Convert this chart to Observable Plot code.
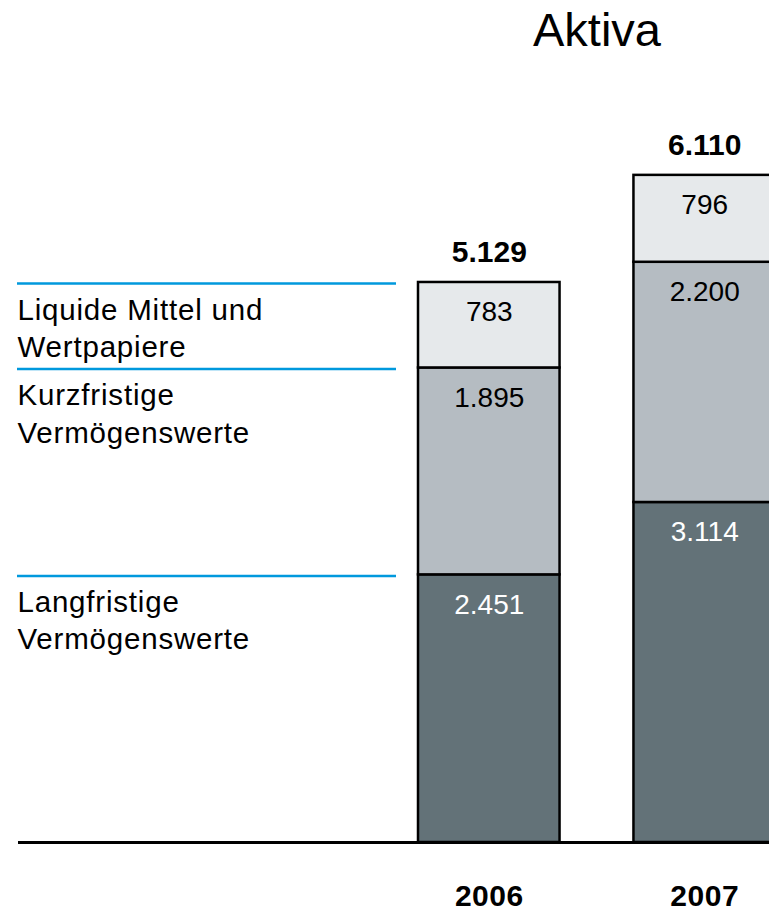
<!DOCTYPE html>
<html>
<head>
<meta charset="utf-8">
<script src="https://cdn.jsdelivr.net/npm/d3@7"></script>
<script src="https://cdn.jsdelivr.net/npm/@observablehq/plot@0.6"></script>
<style>
  html, body { margin: 0; padding: 0; background: white; overflow: hidden; }
  #wrap { width: 769px; }
  #title {
    height: 60px; line-height: 60px; width: 200px; margin-left: 497px;
    text-align: center; font-family: "Liberation Sans", Arial, sans-serif;
    font-size: 47px; color: #000;
  }
</style>
</head>
<body>
<div id="wrap">
  <div id="title">Aktiva</div>
  <div id="chart"></div>
</div>
<script>
// ---- data ----
const title = "Aktiva";
const years = ["2006", "2007"];
const categories = ["Langfristige Vermögenswerte", "Kurzfristige Vermögenswerte", "Liquide Mittel und Wertpapiere"];
const categoryLabels = ["Langfristige\nVermögenswerte", "Kurzfristige\nVermögenswerte", "Liquide Mittel und\nWertpapiere"];
const values2006 = [2451, 1895, 783];
const values2007 = [3114, 2200, 796];
const totals = [5129, 6110];
const colors = ["#637278", "#b5bcc2", "#e6e9eb"];
const textColors = ["#ffffff", "#000000", "#000000"];

// ---- tables built from the arrays ----
const de = d3.formatLocale({decimal: ",", thousands: ".", grouping: [3], currency: ["", " €"]});
const fmt = de.format(",d");
const seriesByYear = {"2006": values2006, "2007": values2007};
const rows = [];
years.forEach(y => categories.forEach((c, i) => rows.push({year: y, category: c, idx: i, value: seriesByYear[y][i]})));
const totalRows = years.map((y, i) => ({year: y, total: totals[i]}));
let acc = 0;
const legendRows = categories.map((c, i) => { acc += values2006[i]; return {category: c, label: categoryLabels[i], top: acc}; });

const font = '"Liberation Sans", Arial, sans-serif';

const chart = Plot.plot({
  width: 769,
  height: 851,
  marginTop: 0,
  marginBottom: 69,
  marginLeft: 0,
  marginRight: 0,
  style: {fontFamily: font, background: "white", overflow: "hidden"},
  x: {type: "band", domain: years, range: [418, 775], paddingInner: 0.343, paddingOuter: 0, round: false, axis: null},
  y: {domain: [0, 7162], axis: null},
  color: {domain: categories, range: colors},
  marks: [
    Plot.barY(rows, {x: "year", y: "value", fill: "category", stroke: "black", strokeWidth: 2.5}),
    Plot.text(rows, Plot.stackY2({x: "year", y: "value", text: d => fmt(d.value), fill: d => textColors[d.idx],
      lineAnchor: "top", dy: 19, fontSize: 28})),
    Plot.text(totalRows, {x: "year", y: "total", text: d => fmt(d.total), lineAnchor: "bottom", dy: -20,
      fontSize: 30, fontWeight: "bold", fill: "black"}),
    Plot.ruleY(legendRows, {y: "top", stroke: "#0099dd", strokeWidth: 2.5, insetLeft: 17, insetRight: 373, dy: 1}),
    Plot.text(legendRows, {y: "top", text: "label", frameAnchor: "left", dx: 17, textAnchor: "start",
      lineAnchor: "top", dy: 11, fontSize: 29.5, lineHeight: 1.26, fill: "black", ariaDescription: "legend-labels"}),
    Plot.ruleY([0], {stroke: "black", strokeWidth: 3, insetLeft: 18}),
    Plot.text(years, {x: d => d, text: d => d, frameAnchor: "bottom", lineAnchor: "bottom", dy: 63,
      fontSize: 30, fontWeight: "bold", fill: "black", ariaDescription: "year-labels"})
  ]
});
document.getElementById("chart").appendChild(chart);
d3.select(chart).selectAll('g[aria-description="legend-labels"]').style("letter-spacing", "0.8px");
d3.select(chart).selectAll('g[aria-description="year-labels"]').style("letter-spacing", "0.5px");
</script>
</body>
</html>
